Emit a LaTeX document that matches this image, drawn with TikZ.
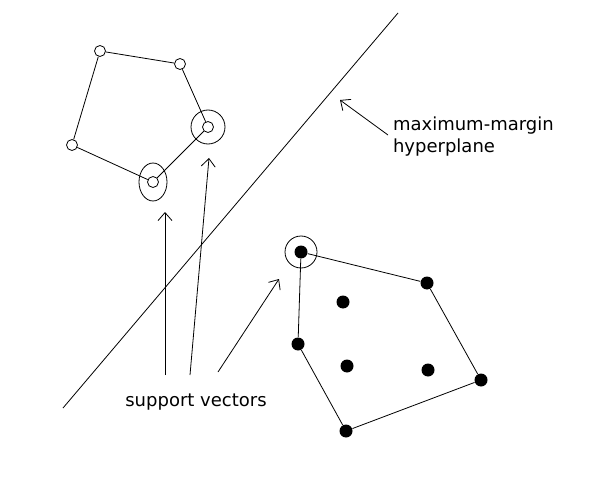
\documentclass[tikz,border=0pt]{standalone}
\usepackage{fontspec}
\setmainfont{DejaVu Sans}
\usetikzlibrary{arrows.meta}
\begin{document}
\begin{tikzpicture}[
    x=0.5pt, y=-0.5pt,
    open/.style={circle, draw, inner sep=0pt, minimum size=5.5pt},
    full/.style={circle, fill, inner sep=0pt, minimum size=6.5pt},
    edge/.style={thin},
    arrow/.style={-{Straight Barb[length=4pt,width=7pt]}, thin},
    label/.style={font=\fontsize{9}{11}\selectfont, align=left}
]
    \useasboundingbox (0,0) rectangle (616,481);
    % Open class
    \node[open] (a1) at (100,51) {};
    \node[open] (a2) at (180,64) {};
    \node[open] (a3) at (208,127) {};
    \node[open] (a4) at (153,182) {};
    \node[open] (a5) at (72,145) {};
    \draw[edge] (a1) -- (a2) -- (a3) -- (a4) -- (a5) -- (a1);
    \draw (a3) circle (8.5pt);
    \draw (a4) ellipse (7pt and 9.5pt);
    % Filled class
    \node[full] (b1) at (301,252) {};
    \node[full] (b2) at (427,283) {};
    \node[full] (b3) at (481,380) {};
    \node[full] (b4) at (346,431) {};
    \node[full] (b5) at (298,344) {};
    \node[full] (c1) at (343,302) {};
    \node[full] (c2) at (347,366) {};
    \node[full] (c3) at (428,370) {};
    \draw[edge] (b1) -- (b2) -- (b3) -- (b4) -- (b5) -- (b1);
    \draw (b1) circle (8pt);
    % Hyperplane
    \coordinate (h1) at (63,408);
    \coordinate (h2) at (398,13);
    \draw[edge] (h1) -- (h2);
    \node[label, anchor=west] (hyp) at (386,137) {maximum-margin\\hyperplane};
    \coordinate (h3) at (340,100);
    \draw[arrow] (388,135) -- (h3);
    % Support vectors
    \node[label] (sv) at (196,402) {support vectors};
    \coordinate (s1) at (165,212);
    \coordinate (s2) at (209,158);
    \coordinate (s3) at (279,279);
    \draw[arrow] (165,375) -- (s1);
    \draw[arrow] (190,375) -- (s2);
    \draw[arrow] (218,372) -- (s3);
\end{tikzpicture}
\end{document}
